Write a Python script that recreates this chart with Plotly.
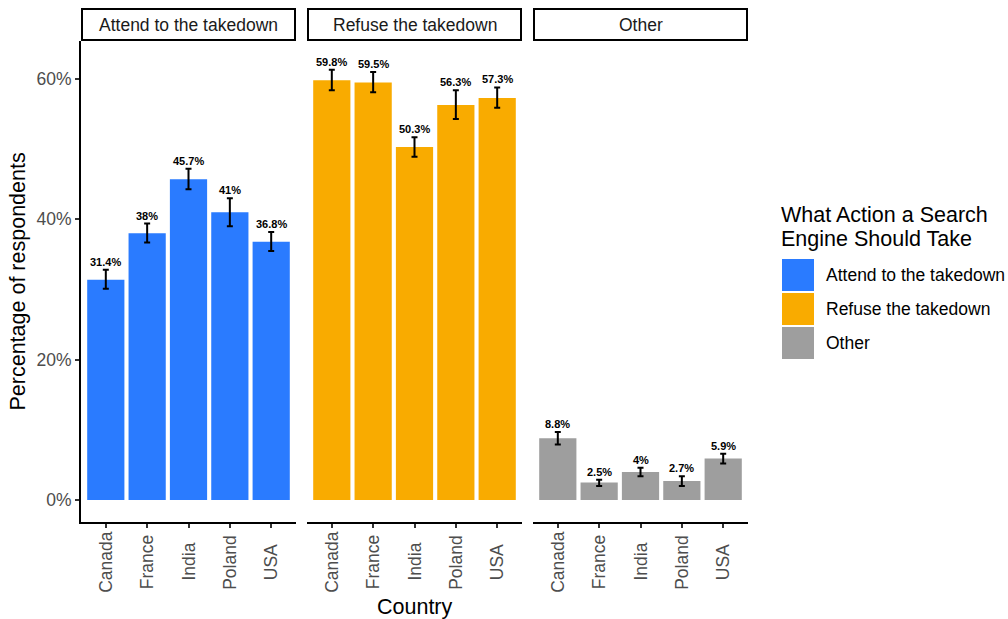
import plotly.graph_objects as go

# Survey results: share of respondents per action, by country (with 95% CI)
countries = ["Canada", "France", "India", "Poland", "USA"]

attend = [31.4, 38.0, 45.7, 41.0, 36.8]
attend_lo = [30.1, 36.7, 44.3, 39.0, 35.5]
attend_hi = [32.8, 39.4, 47.2, 43.0, 38.2]

refuse = [59.8, 59.5, 50.3, 56.3, 57.3]
refuse_lo = [58.4, 58.1, 48.9, 54.3, 55.9]
refuse_hi = [61.3, 61.0, 51.7, 58.4, 58.8]

other = [8.8, 2.5, 4.0, 2.7, 5.9]
other_lo = [7.9, 2.0, 3.4, 2.0, 5.2]
other_hi = [9.7, 2.9, 4.6, 3.4, 6.6]

actions = ["Attend to the takedown", "Refuse the takedown", "Other"]
colors = ["#2A7BFF", "#F9AB00", "#9E9E9E"]
series = [
    (attend, attend_lo, attend_hi),
    (refuse, refuse_lo, refuse_hi),
    (other, other_lo, other_hi),
]

legend_title = ["What Action a Search", "Engine Should Take"]

# Pixel geometry of the plotting area
W, H = 1008, 619
L, R, T, B = 81, 748, 41, 522
PW, PH = R - L, B - T
panels_px = [(81, 296), (307, 522), (533, 748)]

SMALL, BIG = 17.5, 21.5


def px_x(p):
    return (p - L) / PW


def px_y(p):
    return (B - p) / PH


fig = go.Figure()
annotations = []
shapes = []
font = "Liberation Sans, Arial, sans-serif"

for i, (name, col, (vals, lo, hi)) in enumerate(zip(actions, colors, series)):
    xa = "x" if i == 0 else f"x{i + 1}"
    fig.add_trace(go.Bar(
        x=countries, y=vals, name=name, marker_color=col,
        marker_line_width=0, xaxis=xa, yaxis="y", showlegend=False,
        error_y=dict(
            type="data", symmetric=False,
            array=[h - v for h, v in zip(hi, vals)],
            arrayminus=[v - l for v, l in zip(vals, lo)],
            color="black", thickness=2, width=3,
        ),
        hoverinfo="x+y",
    ))
    for c, v, h in zip(countries, vals, hi):
        annotations.append(dict(
            x=c, y=h, xref=xa, yref="y", text=f"{v:g}%", showarrow=False,
            yanchor="bottom", yshift=0,
            font=dict(family=font, size=11, color="black", weight="bold"),
        ))
        # rotated category label, centred below the tick
        annotations.append(dict(
            x=c, y=px_y(562), xref=xa, yref="paper", text=c,
            showarrow=False, textangle=-90, xanchor="center",
            yanchor="middle",
            font=dict(family=font, size=SMALL, color="#4D4D4D"),
        ))
    # facet strip
    x0, x1 = panels_px[i]
    shapes.append(dict(
        type="rect", xref="paper", yref="paper",
        x0=px_x(x0 + 1), x1=px_x(x1 - 1), y0=px_y(40), y1=px_y(9),
        line=dict(color="black", width=2), fillcolor="white",
    ))
    annotations.append(dict(
        x=px_x((x0 + x1) / 2), y=px_y(24.5), xref="paper", yref="paper",
        text=name, showarrow=False, xanchor="center", yanchor="middle",
        font=dict(family=font, size=SMALL, color="#1A1A1A"),
    ))

xaxis_common = dict(
    type="category", range=[-0.6, 4.6], showline=True, linecolor="black",
    linewidth=2, ticks="outside", ticklen=4, tickcolor="#333333",
    tickwidth=1.5, showticklabels=False, showgrid=False, zeroline=False,
    anchor="y",
)

layout_axes = {}
for i, (x0, x1) in enumerate(panels_px):
    key = "xaxis" if i == 0 else f"xaxis{i + 1}"
    layout_axes[key] = dict(xaxis_common, domain=[px_x(x0), px_x(x1)])

# Legend drawn as keys + labels
for line, cy in zip(legend_title, [215, 239]):
    annotations.append(dict(
        x=px_x(779), y=px_y(cy), xref="paper", yref="paper",
        text=line, showarrow=False, xanchor="left", yanchor="middle",
        font=dict(family=font, size=BIG, color="black"),
    ))
key_tops = [259, 293, 327]
for name, col, top in zip(actions, colors, key_tops):
    shapes.append(dict(
        type="rect", xref="paper", yref="paper",
        x0=px_x(782), x1=px_x(814), y0=px_y(top + 32), y1=px_y(top),
        line=dict(width=0), fillcolor=col,
    ))
    annotations.append(dict(
        x=px_x(824), y=px_y(top + 16), xref="paper", yref="paper",
        text=name, showarrow=False, xanchor="left", yanchor="middle",
        font=dict(family=font, size=SMALL, color="black"),
    ))

# Axis titles
annotations.append(dict(
    x=px_x(17), y=px_y((T + B) / 2), xref="paper", yref="paper",
    text="Percentage of respondents", showarrow=False, textangle=-90,
    xanchor="center", yanchor="middle",
    font=dict(family=font, size=BIG, color="black"),
))
annotations.append(dict(
    x=px_x((L + R) / 2), y=px_y(607), xref="paper", yref="paper",
    text="Country", showarrow=False, xanchor="center", yanchor="middle",
    font=dict(family=font, size=BIG, color="black"),
))

fig.update_layout(
    width=W, height=H,
    margin=dict(l=L, r=W - R, t=T, b=H - B),
    paper_bgcolor="white", plot_bgcolor="white",
    bargap=0.1,
    yaxis=dict(
        range=[-3.135, 65.41], tickvals=[0, 20, 40, 60],
        ticktext=["0%", "20%", "40%", "60%"], showline=True,
        linecolor="black", linewidth=2, ticks="outside", ticklen=4,
        tickcolor="#333333", tickwidth=1.5, showgrid=False, zeroline=False,
        tickfont=dict(family=font, size=SMALL, color="#4D4D4D"),
    ),
    annotations=annotations, shapes=shapes,
    **layout_axes,
)

fig.write_html("out.html")
